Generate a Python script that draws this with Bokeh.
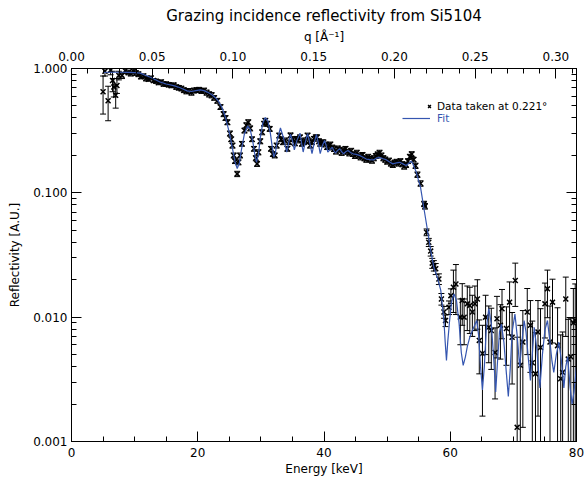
import math
from bokeh.plotting import figure
from bokeh.models import (ColumnDataSource, LinearAxis, LogAxis, Range1d, SingleIntervalTicker,
                          LogTicker, PrintfTickFormatter, CustomJSTickFormatter, Legend, LegendItem)
from bokeh.embed import file_html
from bokeh.resources import INLINE

TITLE = "Grazing incidence reflectivity from Si5104"
X_LABEL = "Energy [keV]"
Y_LABEL = "Reflectivity [A.U.]"
TOP_LABEL = "q [Å⁻¹]"
DATA_LABEL = "Data taken at 0.221°"
FIT_LABEL = "Fit"
ANGLE_DEG = 0.221
HC = 12.398  # keV*Angstrom

# ---- measured data, dense region (keV, reflectivity, sigma)
energy_dense = [5.0, 5.3, 5.8, 6.2, 6.5, 6.7, 7.0, 7.2, 7.5, 8.0, 8.5, 9.0, 9.4, 9.8, 10.2, 10.6,
                11.0, 11.4, 11.8, 12.2, 12.6, 13.0, 13.4, 13.8, 14.2, 14.6, 15.0, 15.4, 15.8, 16.2,
                16.6, 17.0, 17.4, 17.8, 18.2, 18.6, 19.0, 19.4, 19.8, 20.2, 20.6, 21.0, 21.4, 21.8,
                22.2, 22.6, 23.1, 23.6, 24.1, 24.4, 24.7, 25.1, 25.3, 25.5, 25.7, 25.9, 26.25, 26.45,
                26.7, 27.0, 27.4, 27.7, 28.0, 28.3, 28.6, 28.9, 29.2, 29.4, 29.6, 29.9, 30.2, 30.5,
                30.7, 31.0, 31.4, 31.6, 31.9, 32.2, 32.5, 32.9, 33.2, 33.5, 33.8, 34.2, 34.5, 34.7,
                35.1, 35.4, 35.6, 35.9, 36.2, 36.5, 36.8, 37.0, 37.4, 37.6, 37.8, 38.1, 38.4, 38.7,
                38.9, 39.2, 39.4, 39.7, 39.9, 40.2, 40.5, 40.8, 41.0, 41.3, 41.6, 41.9, 42.2, 42.5,
                42.8, 43.1, 43.4, 43.7, 44.0, 44.3, 44.6, 44.9, 45.2, 45.5, 45.8, 46.1, 46.4, 46.7,
                47.0, 47.3, 47.6, 47.9, 48.2, 48.5, 48.8, 49.1, 49.4, 49.7, 50.0, 50.3, 50.6, 50.9,
                51.2, 51.5, 51.8, 52.1, 52.4, 52.7, 53.0, 53.3, 53.6, 53.9, 54.2, 54.5, 54.8]
refl_dense = [0.65, 0.95, 0.55, 0.97, 0.80, 0.71, 0.61, 0.73, 0.88, 0.88, 0.96, 0.93, 0.91, 0.95, 0.92, 0.90,
              0.86, 0.87, 0.83, 0.82, 0.84, 0.80, 0.79, 0.77, 0.78, 0.75, 0.75, 0.74, 0.73, 0.735,
              0.71, 0.70, 0.69, 0.67, 0.655, 0.66, 0.64, 0.665, 0.67, 0.675, 0.66, 0.665, 0.64, 0.62,
              0.61, 0.58, 0.55, 0.49, 0.43, 0.40, 0.37, 0.30, 0.27, 0.24, 0.20, 0.18, 0.142, 0.176,
              0.20, 0.248, 0.317, 0.35, 0.37, 0.33, 0.27, 0.226, 0.19, 0.171, 0.212, 0.26, 0.307, 0.36,
              0.38, 0.36, 0.327, 0.226, 0.205, 0.20, 0.24, 0.289, 0.27, 0.255, 0.264, 0.226, 0.255, 0.29,
              0.27, 0.25, 0.272, 0.264, 0.28, 0.248, 0.255, 0.264, 0.289, 0.26, 0.24, 0.255, 0.272, 0.28,
              0.28, 0.26, 0.248, 0.255, 0.255, 0.245, 0.233, 0.24, 0.245, 0.232, 0.225, 0.215, 0.228, 0.222,
              0.210, 0.218, 0.226, 0.214, 0.208, 0.218, 0.205, 0.198, 0.21, 0.20, 0.193, 0.202, 0.19, 0.185,
              0.195, 0.187, 0.182, 0.19, 0.198, 0.204, 0.21, 0.20, 0.19, 0.185, 0.178, 0.182, 0.172, 0.168,
              0.175, 0.178, 0.172, 0.18, 0.17, 0.163, 0.168, 0.18, 0.195, 0.205, 0.185, 0.165, 0.14]
sigma_dense = [0.22, 0.08, 0.17, 0.08, 0.15, 0.12, 0.13, 0.10, 0.07, 0.05, 0.05, 0.04, 0.04, 0.04, 0.04, 0.04,
               0.035, 0.035, 0.035, 0.03, 0.03, 0.03, 0.03, 0.03, 0.03, 0.03, 0.03, 0.03, 0.03, 0.03,
               0.03, 0.03, 0.03, 0.03, 0.03, 0.03, 0.03, 0.03, 0.03, 0.03, 0.03, 0.03, 0.03, 0.03,
               0.03, 0.025, 0.025, 0.022, 0.02, 0.018, 0.017, 0.014, 0.012, 0.011, 0.009, 0.008, 0.007, 0.008,
               0.009, 0.011, 0.014, 0.016, 0.017, 0.015, 0.012, 0.010, 0.009, 0.008, 0.010, 0.012, 0.014, 0.016,
               0.017, 0.016, 0.015, 0.010, 0.009, 0.009, 0.011, 0.013, 0.012, 0.011, 0.012, 0.010, 0.011, 0.013,
               0.012, 0.011, 0.012, 0.012, 0.012, 0.011, 0.011, 0.012, 0.013, 0.012, 0.011, 0.011, 0.012, 0.012,
               0.012, 0.012, 0.011, 0.011, 0.011, 0.011, 0.010, 0.011, 0.011, 0.010, 0.010, 0.010, 0.010, 0.010,
               0.010, 0.010, 0.010, 0.010, 0.010, 0.010, 0.009, 0.009, 0.010, 0.009, 0.009, 0.009, 0.009, 0.009,
               0.009, 0.009, 0.009, 0.009, 0.009, 0.009, 0.010, 0.009, 0.009, 0.009, 0.008, 0.008, 0.008, 0.008,
               0.008, 0.008, 0.008, 0.008, 0.008, 0.008, 0.008, 0.008, 0.009, 0.009, 0.008, 0.008, 0.007]

# ---- measured data, edge and high-energy region
energy_tail = [55.3, 55.85, 56.0, 56.25, 56.6, 56.9, 57.15, 57.4, 57.7, 58.2, 58.6, 59.0, 59.25, 59.8,
               60.1, 60.5, 60.9, 61.6, 61.9, 62.2, 62.7, 63.1, 63.5, 63.9, 64.3, 64.6, 65.1, 65.6,
               66.1, 66.5, 67.1, 67.4, 67.95, 68.2, 68.9, 69.4, 69.8, 70.3, 70.6, 71.1, 71.5, 72.2,
               72.7, 73.0, 73.5, 73.9, 74.3, 75.0, 75.4, 75.8, 76.2, 77.0, 77.5, 77.8, 78.3, 78.7,
               79.1, 79.5, 79.8]
refl_tail = [0.119, 0.0815, 0.078, 0.0482, 0.040, 0.034, 0.0272, 0.026, 0.0245, 0.0203, 0.0140, 0.011, 0.0094, 0.012,
             0.0149, 0.0174, 0.0185, 0.010, 0.0136, 0.010, 0.0128, 0.0124, 0.011, 0.0128, 0.0140, 0.0065, 0.0051, 0.010,
             0.0083, 0.0078, 0.0052, 0.0097, 0.0086, 0.0117, 0.0081, 0.0132, 0.0069, 0.0197, 0.0013, 0.0041, 0.0063, 0.011,
             0.0086, 0.0043, 0.0035, 0.0076, 0.0057, 0.0128, 0.0169, 0.0063, 0.0132, 0.0059, 0.0032, 0.0036, 0.014, 0.0046,
             0.0048, 0.009, 0.0095]
sigma_tail = [0.006, 0.004, 0.004, 0.003, 0.003, 0.003, 0.0025, 0.0025, 0.0025, 0.002, 0.0015, 0.0012, 0.001, 0.0015,
              0.002, 0.0065, 0.008, 0.004, 0.005, 0.004, 0.005, 0.005, 0.004, 0.005, 0.006, 0.003, 0.0035, 0.005,
              0.004, 0.004, 0.003, 0.005, 0.004, 0.005, 0.004, 0.006, 0.004, 0.0075, 0.0056, 0.0045, 0.005, 0.006,
              0.005, 0.005, 0.004, 0.006, 0.006, 0.006, 0.007, 0.006, 0.007, 0.006, 0.004, 0.004, 0.007, 0.005,
              0.005, 0.008, 0.009]

# ---- model fit curve
fit_energy = [5.0, 6.0, 7.0, 8.0, 9.0, 10.0, 10.9, 11.5, 12.5, 13.3, 14.1, 15.0, 16.2, 17.2, 18.3, 19.0,
              19.7, 20.4, 21.0, 21.5, 22.2, 22.8, 23.3, 23.8, 24.4, 25.0, 25.55, 25.9, 26.25, 26.6,
              26.9, 27.4, 27.9, 28.3, 28.7, 29.0, 29.3, 29.6, 29.9, 30.3, 30.7, 31.1, 31.5, 31.8,
              32.05, 32.3, 32.6, 33.1, 33.6, 34.1, 34.4, 34.7, 35.0, 35.3, 35.7, 36.2, 36.45, 36.7,
              37.0, 37.4, 37.75, 38.1, 38.45, 38.8, 39.1, 39.4, 39.75, 40.1, 40.35, 40.6, 41.0, 41.3,
              41.55, 41.8, 42.15, 42.5, 42.8, 43.1, 43.45, 43.8, 44.2, 44.6, 45.1, 45.6, 46.2, 46.7,
              47.3, 47.8, 48.3, 48.8, 49.4, 49.9, 50.4, 50.9, 51.5, 52.0, 52.5, 53.0, 53.4, 53.8,
              54.05, 54.3, 54.6, 54.9, 55.3, 55.8, 56.4, 56.9, 57.4, 57.95, 58.5, 59.0, 59.2, 59.4,
              59.6, 59.9, 60.2, 60.6, 61.0, 61.4, 61.75, 62.05, 62.4, 62.7, 63.1, 63.5, 64.2, 64.5,
              64.8, 65.1, 65.4, 65.7, 66.1, 66.5, 66.9, 67.2, 67.5, 67.8, 68.1, 68.5, 68.9, 69.2,
              69.5, 69.8, 70.25, 70.6, 71.0, 71.35, 71.7, 72.0, 72.4, 72.7, 73.0, 73.3, 73.7, 74.2,
              74.6, 75.0, 75.4, 75.8, 76.1, 76.4, 76.8, 77.2, 77.6, 78.0, 78.3, 78.6, 79.0, 79.3,
              79.6, 80.0]
fit_refl = [0.929, 0.933, 0.933, 0.933, 0.931, 0.927, 0.918, 0.891, 0.851, 0.813, 0.776, 0.750, 0.729, 0.700, 0.661, 0.653,
            0.664, 0.673, 0.664, 0.646, 0.617, 0.582, 0.543, 0.490, 0.403, 0.305, 0.221, 0.178, 0.157, 0.174,
            0.219, 0.299, 0.345, 0.324, 0.263, 0.209, 0.177, 0.200, 0.275, 0.363, 0.403, 0.380, 0.302, 0.234,
            0.194, 0.209, 0.266, 0.333, 0.275, 0.213, 0.251, 0.297, 0.263, 0.222, 0.263, 0.302, 0.251, 0.213,
            0.251, 0.299, 0.251, 0.207, 0.251, 0.295, 0.251, 0.207, 0.240, 0.264, 0.240, 0.213, 0.224, 0.233,
            0.219, 0.209, 0.219, 0.226, 0.214, 0.206, 0.214, 0.219, 0.211, 0.206, 0.204, 0.200, 0.193, 0.187,
            0.185, 0.184, 0.190, 0.193, 0.188, 0.184, 0.177, 0.171, 0.174, 0.176, 0.171, 0.166, 0.172, 0.180,
            0.172, 0.160, 0.148, 0.130, 0.110, 0.0766, 0.0498, 0.0344, 0.0252, 0.0209, 0.0164, 0.0094, 0.0063, 0.00448,
            0.0063, 0.0094, 0.0132, 0.0154, 0.0135, 0.0089, 0.0052, 0.0041, 0.0048, 0.0058, 0.0069, 0.0078, 0.0094, 0.0071,
            0.0040, 0.0026, 0.0040, 0.0079, 0.0117, 0.0089, 0.0045, 0.0025, 0.0045, 0.0076, 0.0088, 0.0063, 0.0035, 0.0023,
            0.0038, 0.0076, 0.0106, 0.0071, 0.0040, 0.0063, 0.0094, 0.0076, 0.0045, 0.0031, 0.0050, 0.0083, 0.0056, 0.0027,
            0.0050, 0.0079, 0.0094, 0.0063, 0.0045, 0.0036, 0.0050, 0.0063, 0.0045, 0.0027, 0.0040, 0.0048, 0.0027, 0.0020,
            0.0025, 0.0040]

x_ticks_major = 20
q_ticks_major = 0.05

BLUE = "#3556b0"
FONT = "DejaVu Sans"

energy = energy_dense + energy_tail
refl = refl_dense + refl_tail
sigma = sigma_dense + sigma_tail
upper = [r + s for r, s in zip(refl, sigma)]
lower = [r - s if r - s > 0 else 1e-6 for r, s in zip(refl, sigma)]
cap_lo_e = [e for e, r, s in zip(energy, refl, sigma) if r - s > 0]
cap_lo_v = [r - s for e, r, s in zip(energy, refl, sigma) if r - s > 0]

src = ColumnDataSource(dict(e=energy, r=refl, hi=upper, lo=lower))
cap_src = ColumnDataSource(dict(e=cap_lo_e, v=cap_lo_v))
fit_src = ColumnDataSource(dict(e=fit_energy, r=fit_refl))

E_MAX = 80.0
q_per_kev = 4 * math.pi * math.sin(math.radians(ANGLE_DEG)) / HC

p = figure(width=584, height=483, x_range=Range1d(0, E_MAX), y_range=Range1d(0.001, 1.0),
           y_axis_type="log", output_backend="svg", toolbar_location=None,
           min_border_left=71, min_border_right=8, min_border_top=68, min_border_bottom=42,
           title=TITLE)
p.extra_x_ranges = {"q": Range1d(0, E_MAX * q_per_kev)}
p.grid.visible = False
p.outline_line_color = "black"
p.background_fill_color = "white"

p.title.align = "center"
p.title.text_font = FONT
p.title.text_font_style = "normal"
p.title.text_font_size = "15px"
p.title.standoff = 3
p.title.text_color = "black"

ax_common = dict(axis_line_color="black", major_tick_line_color="black", minor_tick_line_color="black",
                 major_tick_in=10, major_tick_out=0, minor_tick_in=5, minor_tick_out=0,
                 major_label_text_font=FONT, major_label_text_font_size="12px",
                 major_label_text_color="black", axis_label_text_font=FONT,
                 axis_label_text_font_style="normal", axis_label_text_font_size="12px",
                 axis_label_text_color="black")

xa = p.xaxis[0]
xa.ticker = SingleIntervalTicker(interval=x_ticks_major, num_minor_ticks=4)
xa.axis_label = X_LABEL
for k, v in ax_common.items():
    setattr(xa, k, v)
xa.major_label_standoff = 6
xa.axis_label_standoff = 2

ya = p.yaxis[0]
ya.ticker = LogTicker(num_minor_ticks=10)
ya.formatter = PrintfTickFormatter(format="%.3f")
ya.axis_label = Y_LABEL
for k, v in ax_common.items():
    setattr(ya, k, v)
ya.major_label_standoff = 4
ya.axis_label_standoff = 8

ta = LinearAxis(x_range_name="q", ticker=SingleIntervalTicker(interval=q_ticks_major, num_minor_ticks=5),
                formatter=PrintfTickFormatter(format="%.2f"), axis_label=TOP_LABEL, **ax_common)
ta.major_label_standoff = 8
ta.axis_label_standoff = 5
p.add_layout(ta, "above")

ra = LogAxis(ticker=LogTicker(num_minor_ticks=10), formatter=CustomJSTickFormatter(code="return ''"),
             **ax_common)
ra.major_label_standoff = 0
p.add_layout(ra, "right")

# error bars
p.segment(x0="e", y0="lo", x1="e", y1="hi", source=src, line_color="black", line_width=1)
p.scatter(x="e", y="hi", source=src, marker="dash", size=6, line_color="black", line_width=1)
p.scatter(x="e", y="v", source=cap_src, marker="dash", size=6, line_color="black", line_width=1)
pts = p.scatter(x="e", y="r", source=src, marker="x", size=7, line_color="black", line_width=1.5)
fit = p.line(x="e", y="r", source=fit_src, line_color=BLUE, line_width=1.2)

leg_common = dict(border_line_color=None, background_fill_alpha=0, padding=0, margin=0, spacing=0,
                  label_text_font=FONT, label_text_font_size="10.5px", glyph_height=12, label_height=12)
leg1 = Legend(items=[LegendItem(label=DATA_LABEL, renderers=[pts])], location=(353, 329),
              glyph_width=10, label_standoff=3, label_text_color="black", **leg_common)
leg2 = Legend(items=[LegendItem(label=FIT_LABEL, renderers=[fit])], location=(331, 317),
              glyph_width=28, label_standoff=7, label_text_color=BLUE, **leg_common)
p.add_layout(leg1)
p.add_layout(leg2)

open("out.html", "w").write(file_html(p, INLINE))
